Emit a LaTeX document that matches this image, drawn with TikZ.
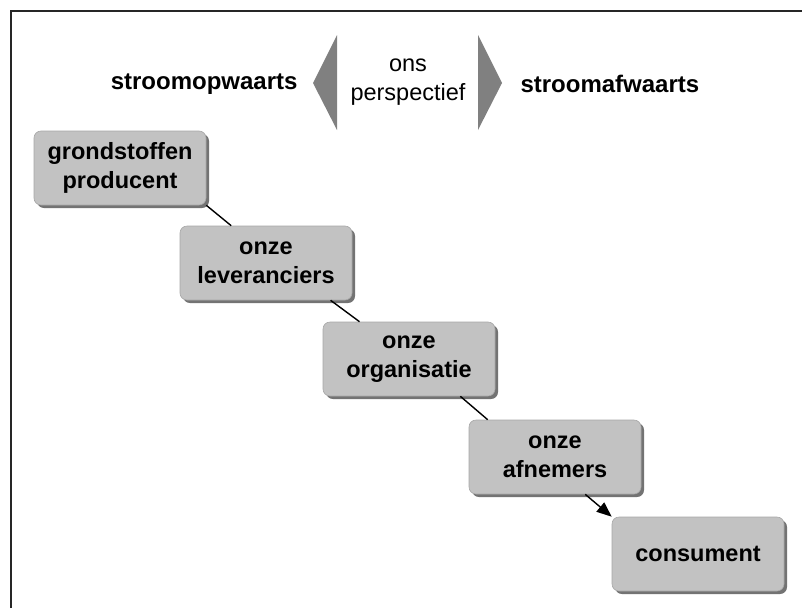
\documentclass[tikz,border=0pt]{standalone}
\usepackage{fontspec}
\setmainfont{Liberation Sans}
\usetikzlibrary{shadows,arrows.meta}
\begin{document}
\begin{tikzpicture}[x=1pt,y=-1pt,
  chainbox/.style={draw=gray!70, line width=0.6pt, fill=black!24, rounded corners=7pt,
    minimum width=172pt, minimum height=74pt, align=center,
    font=\fontsize{23.5}{29.5}\selectfont\bfseries,
    drop shadow={shadow xshift=3pt, shadow yshift=-3pt, fill=black!55, opacity=1}},
  headtext/.style={font=\fontsize{24}{30}\selectfont\bfseries},
  conn/.style={line width=1.4pt, black},
  dirarrow/.style={fill=black!50, draw=none}]
\useasboundingbox (0,0) rectangle (802,608);
% frame
\draw[line width=1.6pt, black!85] (11,608) -- (11,11) -- (802,11);
% header
\node[headtext, anchor=east] (up) at (301,84) {stroomopwaarts};
\node[headtext, anchor=west] (down) at (517,84) {stroomafwaarts};
\node[font=\fontsize{23.5}{29.5}\selectfont, align=center] (ons) at (408,82) {ons\\perspectief};
\fill[dirarrow] (337,35) -- (313,83) -- (337,130) -- cycle;
\fill[dirarrow] (478,35) -- (502,83) -- (478,130) -- cycle;
% boxes
\node[chainbox] (g) at (120,168) {grondstoffen\\producent};
\node[chainbox] (l) at (266,263) {onze\\leveranciers};
\node[chainbox] (o) at (409,359) {onze\\organisatie};
\node[chainbox] (a) at (555,457) {onze\\afnemers};
\node[chainbox] (c) at (698,554) {consument};
% connectors
\draw[conn] (g.south east) -- (l.133);
\draw[conn] (l.-30) -- (o.143);
\draw[conn] (o.-36) -- (a.151);
\draw[conn, -{Triangle[length=15pt,width=12pt]}] (a.-51) -- (c.north west);
\end{tikzpicture}
\end{document}
